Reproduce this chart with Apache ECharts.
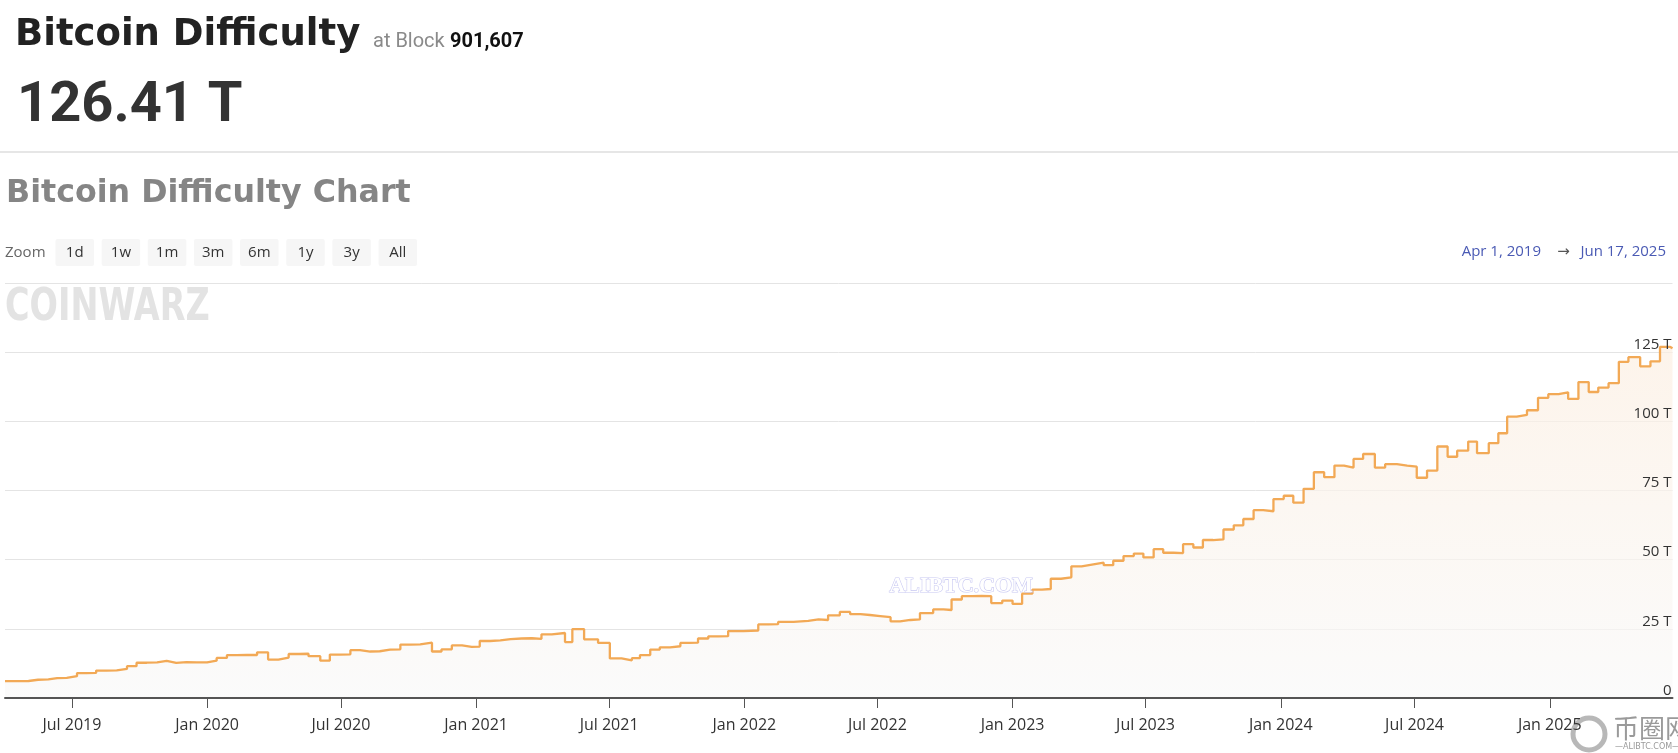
<!DOCTYPE html>
<html>
<head>
<meta charset="utf-8">
<script src="https://cdn.jsdelivr.net/npm/echarts@6/dist/echarts.min.js"></script>
<style>
html,body{margin:0;padding:0;background:#fff;}
#chart{width:1678px;height:753px;}
</style>
</head>
<body>
<div id="chart"></div>
<script>
// ---- data ----
const adjustDates = [
'2019-04-01','2019-04-16','2019-05-03','2019-05-16','2019-05-30','2019-06-11','2019-06-24','2019-07-08','2019-07-21','2019-08-03',
'2019-08-17','2019-08-31','2019-09-14','2019-09-27','2019-10-11','2019-10-25','2019-11-07','2019-11-20','2019-12-04','2019-12-18',
'2020-01-01','2020-01-14','2020-01-28','2020-02-10','2020-02-24','2020-03-09','2020-03-24','2020-04-07','2020-04-21','2020-05-05',
'2020-05-18','2020-06-03','2020-06-16','2020-06-30','2020-07-14','2020-07-27','2020-08-10','2020-08-23','2020-09-06','2020-09-20',
'2020-10-03','2020-10-17','2020-11-02','2020-11-15','2020-11-29','2020-12-13','2020-12-26','2021-01-06','2021-01-20','2021-02-03',
'2021-02-17','2021-03-04','2021-03-18','2021-03-31','2021-04-14','2021-05-02','2021-05-12','2021-05-28','2021-06-16','2021-07-02',
'2021-07-18','2021-08-01','2021-08-12','2021-08-26','2021-09-08','2021-09-22','2021-10-06','2021-10-18','2021-10-30','2021-11-13',
'2021-11-27','2021-12-10','2021-12-31','2022-01-20','2022-02-03','2022-02-16','2022-03-09','2022-03-29','2022-04-12','2022-04-25',
'2022-05-11','2022-05-25','2022-06-08','2022-06-21','2022-07-05','2022-07-19','2022-08-01','2022-08-15','2022-08-28','2022-09-15',
'2022-09-29','2022-10-10','2022-10-24','2022-11-07','2022-11-20','2022-12-03','2022-12-18','2023-01-01','2023-01-14','2023-01-28',
'2023-02-10','2023-02-22','2023-03-08','2023-03-22','2023-04-05','2023-04-21','2023-05-05','2023-05-18','2023-06-01','2023-06-15',
'2023-06-28','2023-07-12','2023-07-25','2023-08-08','2023-08-21','2023-09-04','2023-09-17','2023-10-01','2023-10-15','2023-10-29',
'2023-11-11','2023-11-25','2023-12-08','2023-12-22','2024-01-05','2024-01-18','2024-02-01','2024-02-15','2024-02-29','2024-03-14',
'2024-03-27','2024-04-09','2024-04-22','2024-05-08','2024-05-22','2024-06-07','2024-06-21','2024-07-04','2024-07-18','2024-08-01',
'2024-08-15','2024-08-28','2024-09-12','2024-09-24','2024-10-10','2024-10-23','2024-11-04','2024-11-17','2024-12-01','2024-12-16',
'2024-12-30','2025-01-13','2025-01-26','2025-02-09','2025-02-23','2025-03-08','2025-03-22','2025-04-05','2025-04-18','2025-05-04',
'2025-05-18','2025-05-31','2025-06-14','2025-06-17'
];
const difficultyT = [
6.07,6.15,6.6,6.7,7.2,7.3,7.9,9.0,9.05,9.9,
10.0,10.5,11.5,12.75,12.9,13.4,12.7,12.95,12.85,12.9,
13.5,14.5,15.5,15.6,15.55,16.5,13.9,14.6,15.9,16.0,
15.1,13.5,15.7,15.8,17.3,16.8,16.9,17.5,17.6,19.3,
19.4,20.0,16.8,17.6,19.0,18.5,18.6,20.6,20.8,21.3,
21.5,21.6,21.4,23.0,23.5,20.2,24.9,21.2,19.9,14.3,
13.6,14.4,15.5,17.5,18.3,18.7,19.9,20.0,21.5,22.3,
22.35,24.2,24.4,26.6,26.7,27.5,27.9,28.4,28.2,29.9,
31.1,30.3,30.0,29.6,29.2,27.7,28.2,28.4,30.7,32.0,
31.8,35.6,36.8,36.9,36.8,34.3,35.2,34.0,37.7,39.2,
39.4,43.1,43.6,47.6,48.3,48.9,48.0,49.6,51.3,52.2,
50.8,53.8,52.5,52.4,55.6,54.4,57.1,57.3,60.9,62.4,
64.7,67.9,67.5,71.9,73.1,70.6,75.6,81.6,79.8,84.0,
83.3,86.4,88.2,83.3,84.5,84.0,83.6,79.6,82.2,90.9,
87.2,89.4,92.7,88.5,92.1,95.7,101.7,102.3,104.0,108.5,
109.8,110.5,108.1,114.2,110.6,112.2,113.8,121.5,123.2,119.9,
121.7,126.9,126.41,126.41
];
const xTickDates = ['2019-07-01','2020-01-01','2020-07-01','2021-01-01','2021-07-01','2022-01-01','2022-07-01','2023-01-01','2023-07-01','2024-01-01','2024-07-01','2025-01-01'];
const yTickValues = [0,25,50,75,100,125,150];
const zoomButtons = ['1d','1w','1m','3m','6m','1y','3y','All'];
const rangeStart = '2019-04-01';
const rangeEnd = '2025-06-17';
const startLabel = 'Apr 1, 2019';
const endLabel = 'Jun 17, 2025';
const currentDifficulty = '126.41 T';
const blockNumber = '901,607';

// ---- chart ----
const MONTHS = ['Jan','Feb','Mar','Apr','May','Jun','Jul','Aug','Sep','Oct','Nov','Dec'];
function ts(s){ const p = s.split('-').map(Number); return Date.UTC(p[0], p[1]-1, p[2]); }
const chart = echarts.init(document.getElementById('chart'), null, {renderer:'canvas'});
const seriesData = adjustDates.map((d,i)=>[ts(d), difficultyT[i]]);
const tickTs = xTickDates.map(ts);
const yMin = yTickValues[0], yMax = yTickValues[yTickValues.length-1], yStep = yTickValues[1]-yTickValues[0];

const graphics = [];
function txt(x, y, text, font, fill, opts) {
  graphics.push({
    type:'text', x:x, y:y, silent:true,
    style:Object.assign({text:text, fill:fill, font:font, verticalAlign:'middle'}, opts||{})
  });
}
// header
txt(15, 35, 'Bitcoin Difficulty', 'bold 37px "DejaVu Sans"', '#222');
txt(373, 42, 'at Block', '20px Roboto', '#8a8a8a');
txt(450, 42, blockNumber, 'bold 20px Roboto', '#111');
txt(17, 107, currentDifficulty, 'bold 56px Roboto', '#333');
graphics.push({type:'rect', shape:{x:0,y:151,width:1678,height:2}, style:{fill:'#e6e6e6'}, silent:true});
txt(6, 194, 'Bitcoin Difficulty Chart', 'bold 31.7px "DejaVu Sans"', '#858585');
// zoom row
txt(5, 253, 'Zoom', '15px "Open Sans"', '#666');
zoomButtons.forEach((b,i)=>{
  const bx = 55.5 + i*46.15;
  graphics.push({type:'rect', shape:{x:bx,y:239,width:38.5,height:27,r:2}, style:{fill:'#f6f6f6'}, silent:true});
  txt(bx+19.25, 253, b, '15px "Open Sans"', '#333', {align:'center'});
});
txt(1666, 252, endLabel, '15px "Open Sans"', '#4a5ab4', {align:'right'});
txt(1563.5, 252, '→', '15px "DejaVu Sans"', '#555', {align:'center'});
txt(1541, 252, startLabel, '15px "Open Sans"', '#4a5ab4', {align:'right'});
// watermarks
graphics.push({type:'text', x:5, y:287, scaleX:0.76, silent:true, z:10,
  style:{text:'COINWARZ', font:'bold 44px "DejaVu Sans"', fill:'#e3e3e3', verticalAlign:'top'}});
graphics.push({type:'text', x:961, y:586, silent:true, z:10,
  style:{text:'ALIBTC.COM', font:'bold 22px "Liberation Serif"', fill:'#ffffff', stroke:'#c9c9f2', lineWidth:1.2, align:'center', verticalAlign:'middle'}});
graphics.push({type:'circle', shape:{cx:1589, cy:734, r:16}, style:{fill:'none', stroke:'#b8b8b8', lineWidth:5}, silent:true, z:10});
txt(1613, 728, '币圈网', '26px "Noto Sans CJK SC"', '#9a9a9a', {});
txt(1615, 747, '—ALIBTC.COM—', '8px "DejaVu Sans"', '#9a9a9a', {});

chart.setOption({
  animation:false,
  backgroundColor:'#ffffff',
  grid:{left:5, right:5.5, top:283, bottom:55, containLabel:false},
  xAxis:{
    type:'value',
    min:ts(rangeStart), max:ts(rangeEnd),
    z:10,
    axisLine:{show:true, lineStyle:{color:'#555', width:2}},
    axisTick:{show:true, customValues:tickTs, length:10, lineStyle:{color:'#555', width:1}},
    axisLabel:{show:true, customValues:tickTs, margin:19, color:'#333', fontSize:16, fontFamily:'"Open Sans"',
      formatter:function(v){const d=new Date(v); return MONTHS[d.getUTCMonth()]+' '+d.getUTCFullYear();}},
    splitLine:{show:false}
  },
  yAxis:[{
    type:'value', position:'right', min:yMin, max:yMax, interval:yStep,
    axisLine:{show:false}, axisTick:{show:false}, axisLabel:{show:false},
    splitLine:{show:true, lineStyle:{color:'#e4e4e4', width:1}}
  },{
    type:'value', position:'right', min:yMin, max:yMax, interval:yStep, z:10,
    axisLine:{show:false}, axisTick:{show:false}, splitLine:{show:false},
    axisLabel:{inside:true, margin:1, color:'#333', fontSize:15, fontFamily:'"Open Sans"', verticalAlign:'bottom',
      formatter:function(v){ if(v===yMax) return ''; return v===0 ? '0' : v+' T'; }}
  }],
  series:[{
    type:'line', step:'end', data:seriesData, showSymbol:false, symbol:'none', yAxisIndex:0,
    lineStyle:{color:'#f2a956', width:2.3},
    areaStyle:{color:new echarts.graphic.LinearGradient(0,0,0,1,[{offset:0,color:'#fcefe2'},{offset:1,color:'#f9f9f9'}])},
    z:2
  }],
  graphic:graphics
});
</script>
</body>
</html>
